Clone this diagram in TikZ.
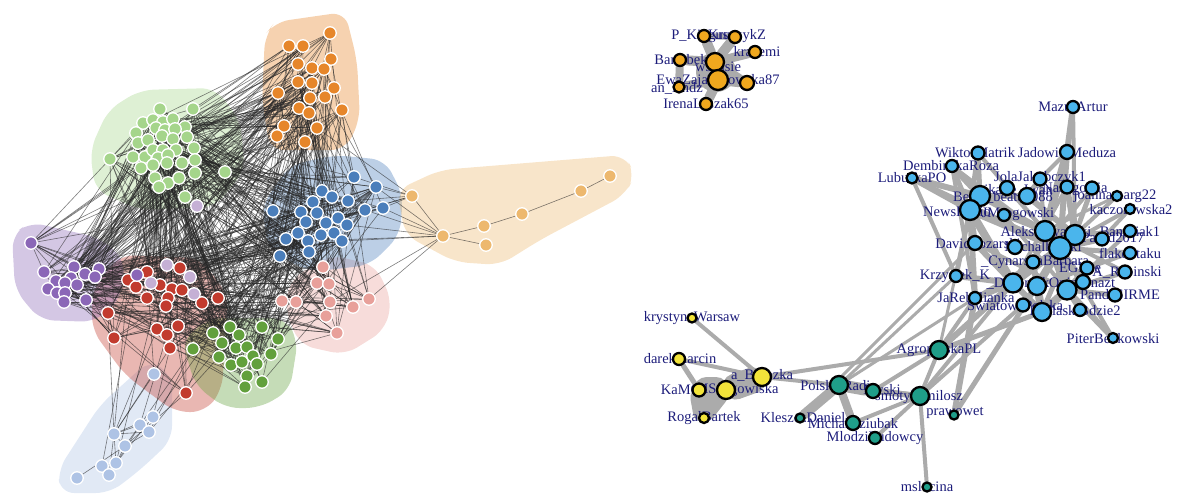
\documentclass[tikz,border=0pt]{standalone}
\usepackage{fontspec}
\setmainfont{Liberation Serif}
\pgfdeclarelayer{hulls}
\pgfdeclarelayer{edges}
\pgfdeclarelayer{labels}
\pgfsetlayers{hulls,edges,labels,main}
\definecolor{cLG}{HTML}{A5D58B}
\definecolor{cOR}{HTML}{E6862A}
\definecolor{cBL}{HTML}{4A7EBB}
\definecolor{cRD}{HTML}{C23B2E}
\definecolor{cPU}{HTML}{8B67B7}
\definecolor{cDG}{HTML}{62A03C}
\definecolor{cPK}{HTML}{E8A09A}
\definecolor{cLV}{HTML}{C5B0D5}
\definecolor{cLB}{HTML}{AEC3E5}
\definecolor{cLO}{HTML}{EDB86E}
\definecolor{rTop}{HTML}{F0A81E}
\definecolor{rYel}{HTML}{F2E33A}
\definecolor{rTeal}{HTML}{1F9E89}
\definecolor{rBlue}{HTML}{4AB5EC}
\definecolor{rEdge}{HTML}{ABABAB}
\definecolor{rText}{HTML}{1C1C7A}
\tikzset{
  dot/.style={circle, draw=white, line width=1.3pt, inner sep=0pt, minimum size=12.5pt},
  ledge/.style={draw=black!85, line width=0.6pt, draw opacity=0.6},
  hull/.style={rounded corners=14pt, fill opacity=0.37},
  rnode/.style={circle, draw=black, line width=2.3pt, inner sep=0pt, minimum size=#1},
  redge/.style={draw=rEdge, line width=#1, line cap=round},
  rlab/.style={text=rText, font=\fontsize{14.5}{14.5}\selectfont, inner sep=0pt}
}
\newcommand{\mkcluster}[3]{\foreach \px/\py [count=\k from #2] in {#3} {\node[dot,fill=#1] (g\k) at (\px,\py) {};}}
\begin{document}
\begin{tikzpicture}[x=1pt,y=-1pt]
\useasboundingbox (0,0) rectangle (1177,495);
% ---------------- hulls ----------------
\begin{pgfonlayer}{hulls}
\fill[hull,cLB] (58,470) -- (100,405) -- (150,360) -- (172,375) -- (172,440) -- (140,470) -- (110,493) -- (60,493) -- cycle;
\fill[hull,cRD] (92,290) -- (120,255) -- (200,258) -- (228,295) -- (222,390) -- (205,412) -- (175,412) -- (125,375) -- (92,330) -- cycle;
\fill[hull,cDG] (182,340) -- (210,318) -- (285,318) -- (298,340) -- (290,390) -- (260,408) -- (225,408) -- (195,385) -- cycle;
\fill[hull,cPU] (12,235) -- (30,222) -- (100,238) -- (125,260) -- (120,300) -- (95,322) -- (40,320) -- (15,290) -- cycle;
\fill[hull,cLG] (90,150) -- (108,110) -- (140,90) -- (215,88) -- (240,120) -- (245,170) -- (215,207) -- (140,210) -- (95,190) -- cycle;
\fill[hull,cOR] (265,35) -- (275,22) -- (345,12) -- (357,60) -- (360,120) -- (345,150) -- (270,150) -- (262,100) -- cycle;
\fill[hull,cPK] (290,280) -- (330,255) -- (375,265) -- (392,300) -- (385,330) -- (345,355) -- (300,345) -- (285,310) -- cycle;
\fill[hull,cBL] (262,205) -- (290,165) -- (335,155) -- (385,160) -- (403,195) -- (400,235) -- (370,265) -- (310,272) -- (268,250) -- cycle;
\fill[hull,cLO] (397,190) -- (440,170) -- (625,155) -- (635,175) -- (625,195) -- (540,240) -- (500,265) -- (455,262) -- (405,235) -- cycle;
\end{pgfonlayer}
% ---------------- left nodes ----------------
\mkcluster{cLG}{1}{160/109,193/109,143/123,153/120,163/122,173/119,185/127,136/133,156/128,165/130,175/129,138/143,148/140,162/136,173/139,187/137,194/148,110/159,133/157,145/157,153/150,163/150,176/150,158/158,168/155,182/163,195/160,141/168,153/165,167/163,155/178,168/183,179/178,195/173,159/187,225/172,185/197}
\mkcluster{cOR}{38}{330/33,289/46,303/46,331/59,298/64,312/68,324/69,298/82,312/83,278/93,334/88,310/98,325/97,299/108,309/113,342/110,284/126,317/128,277/136,305/142}
\mkcluster{cBL}{58}{354/177,376/187,322/191,332/197,348/201,313/202,273/211,301/212,317/213,365/210,383/208,338/218,306/222,326/223,347/225,298/233,321/235,334/233,286/239,308/241,342/241,309/252,280/256}
\mkcluster{cRD}{81}{147/272,180/268,128/280,136/287,160/285,172/289,182/290,147/298,168/298,166/306,202/303,218/298,108/313,114/338,157/329,178/326,167/335,170/348,186/393}
\mkcluster{cPU}{100}{31/243,44/272,74/267,85/274,99/269,95/277,71/278,56/281,65/283,77/285,48/289,57/293,65/293,64/302,86/300,137/275}
\mkcluster{cDG}{116}{193/349,213/333,230/327,239/335,222/343,262/327,278/339,236/348,247/347,219/357,231/365,242/362,253/356,257/364,271/354,247/376,245/387,262/382}
\mkcluster{cPK}{134}{323/267,317/283,329/284,282/301,296/302,330/302,369/299,353/307,326/316,337/333}
\mkcluster{cLV}{144}{197/206,167/265,190/277,151/283,194/294}
\foreach \px/\py [count=\k] in {154/374,114/434,140/425,153/417,149/432,125/446,116/463,102/466,109/475,77/478}
  {\node[dot,fill=cLB] (lb\k) at (\px,\py) {};}
\foreach \px/\py [count=\k] in {412/196,443/236,484/226,486/245,522/214,581/191,610/176}
  {\node[dot,fill=cLO] (lo\k) at (\px,\py) {};}
% ---------------- left edges ----------------
\begin{pgfonlayer}{edges}
\pgfmathsetseed{4242}
\foreach \i in {1,...,820}{
  \pgfmathrandominteger{\ea}{1}{148}
  \pgfmathrandominteger{\eb}{1}{148}
  \ifnum\ea=\eb\else\draw[ledge] (g\ea) -- (g\eb);\fi
}
\foreach \a/\b in {18/100,18/3,18/8,100/101,100/102}{\draw[ledge] (g\a) -- (g\b);}
\foreach \a/\b in {2/3,2/4,2/5,2/6,2/7,2/9,3/6,5/6,6/7,7/8,8/9,10/6,2/1,4/7,3/9}{\draw[ledge] (lb\a) -- (lb\b);}
\foreach \a/\b in {2/93,2/98,2/95,2/83,1/81,3/116,4/117,5/120,7/85,6/99,8/84,1/99,4/98,3/97,5/116}{\draw[ledge] (lb\a) -- (g\b);}
\foreach \a/\b in {1/2,2/3,2/4,3/5,5/6,6/7}{\draw[ledge] (lo\a) -- (lo\b);}
\foreach \a/\b in {1/58,1/59,1/67,1/68,1/69,1/55,1/62,2/78,2/72,2/59,2/77,2/140,2/139,2/68,2/67}{\draw[ledge] (lo\a) -- (g\b);}
\end{pgfonlayer}
% ---------------- right nodes ----------------
\node[rnode=12pt,fill=rTop] (t1) at (704,36) {};
\node[rnode=12pt,fill=rTop] (t2) at (735,37) {};
\node[rnode=12pt,fill=rTop] (t3) at (755,52) {};
\node[rnode=12pt,fill=rTop] (t4) at (680,60) {};
\node[rnode=18pt,fill=rTop] (t5) at (715,62) {};
\node[rnode=20pt,fill=rTop] (t6) at (718,80) {};
\node[rnode=14pt,fill=rTop] (t7) at (747,83) {};
\node[rnode=11pt,fill=rTop] (t8) at (679,87) {};
\node[rnode=12pt,fill=rTop] (t9) at (706,104) {};
\node[rnode=9pt,fill=rYel] (y1) at (692,318) {};
\node[rnode=12pt,fill=rYel] (y2) at (679,359) {};
\node[rnode=18pt,fill=rYel] (y3) at (762,377) {};
\node[rnode=13pt,fill=rYel] (y4) at (699,390) {};
\node[rnode=18pt,fill=rYel] (y5) at (726,390) {};
\node[rnode=10pt,fill=rYel] (y6) at (704,418) {};
\node[rnode=18pt,fill=rTeal] (c1) at (939,350) {};
\node[rnode=18pt,fill=rTeal] (c2) at (839,385) {};
\node[rnode=14pt,fill=rTeal] (c3) at (873,391) {};
\node[rnode=18pt,fill=rTeal] (c4) at (920,396) {};
\node[rnode=14pt,fill=rTeal] (c5) at (853,423) {};
\node[rnode=12pt,fill=rTeal] (c6) at (875,438) {};
\node[rnode=9pt,fill=rTeal] (c7) at (800,418) {};
\node[rnode=9pt,fill=rTeal] (c8) at (954,415) {};
\node[rnode=9pt,fill=rTeal] (c9) at (927,487) {};
\foreach \px/\py/\d [count=\k] in {1073/107/12,978/153/13,1067/152/14,952/166/12,912/178/11,1040/179/13,980/196/20,1007/188/14,1027/196/16,1067/187/13,1092/188/13,1117/196/10,1130/209/10,970/210/20,1004/215/12,1045/231/20,1075/235/20,1060/248/22,1102/239/13,1130/231/12,1130/253/12,975/243/14,1015/247/14,1033/262/13,1087/268/13,1125/272/13,956/276/12,1013/283/19,1037/286/18,1067/290/19,1083/282/14,1115/295/13,975/298/12,1023/305/13,1042/312/18,1080/310/12,1113/338/10}
  {\node[rnode=\d pt,fill=rBlue] (b\k) at (\px,\py) {};}
% ---------------- right labels ----------------
\begin{pgfonlayer}{labels}
\foreach \px/\py/\txt [count=\k] in {
 700/36/P\_Kingus, 737/36/KruszykZ, 757/52/kracemi, 681/60/Bartobek, 718/67/wsensie,
 718/81/EwaZajaczkowska87, 677/88/an\_Bndz, 706/104/IrenaLeszak65,
 692/318/krystynaWarsaw, 680/359/darekmarcin, 762/375/a\_Brzozka, 681/390/KaMO,
 737/390/MSzogowiska, 704/418/RogalBartek,
 939/350/AgropolskaPL, 839/386/PolskieRadio, 882/391/Myski, 919/397/smotykamilosz,
 803/418/KleszczDaniel, 853/424/MichalDziubak, 875/438/MlodziLudowcy, 955/413/prawowet,
 927/487/mslocina,
 1073/107/MazurArtur, 975/153/WiktorMatrik, 1067/153/JadowitaMeduza, 951/166/DembinskaRoza,
 912/178/LubuskaPO, 1040/178/JolaJakobczyk1, 1013/190/mikalle\_Iwan, 1075/189/NaJogowia,
 1003/197/Beata\_beata1088, 1115/196/joannamarg22, 1131/210/kaczorowska2, 957/212/NewsRadio,
 1018/214/JMrogowski, 1046/232/AleksZawadzki, 1113/238/Parkd2017, 1130/232/Banasiak1,
 1130/253/flakontaku, 978/244/DavidPozarski, 1043/247/Michalhorski, 1035/262/\_CynarskaBarbara,
 1080/268/EGlase, 1127/272/A\_Rabinski, 955/276/Krzysiek\_K, 1018/283/\_Decorzak,
 1082/284/OpinJonazt, 1120/295/PandaSIRME, 976/298/JaRebelianka, 1015/306/SwiatowaPolska,
 1075/311/PodlaskiBdzie2, 1113/339/PiterBenkowski}
 {\node[rlab] (lab\k) at (\px,\py) {\txt};}
\end{pgfonlayer}
% ---------------- right edges ----------------
\begin{pgfonlayer}{edges}
\fill[rEdge] (716,72) circle (20);
\foreach \a/\b/\w in {5/1/10,5/2/10,5/3/9,5/4/10,5/6/14,5/7/8,6/8/9,6/9/10,6/7/10,4/8/8,1/2/6}
  {\draw[redge=\w pt] (t\a) -- (t\b);}
\foreach \a/\b/\w in {3/5/26,4/5/26,6/4/20,6/5/14,2/4/5,2/3/4,1/3/4}
  {\draw[redge=\w pt] (y\a) -- (y\b);}
\draw[redge=4pt] (y3) -- (c1);
\draw[redge=4pt] (y3) -- (c2);
\foreach \a/\b/\w in {7/2/10,2/3/12,2/5/8,3/4/6,2/4/5,4/6/4,5/4/4,4/9/4,4/1/4,3/1/4}
  {\draw[redge=\w pt] (c\a) -- (c\b);}
\foreach \a/\b/\w in {1/14/3,2/27/3,2/33/3,7/22/3,8/33/6,1/28/6,1/35/5,4/34/4,8/29/5,1/33/4,4/28/4}
  {\draw[redge=\w pt] (c\a) -- (b\b);}
\foreach \a/\b/\w in {1/3/6,1/17/4,3/6/4,3/16/8,3/18/6,2/7/5,2/14/5,4/7/6,4/14/5,5/7/6,5/14/6,5/18/4,6/9/5,6/16/4,7/14/10,7/9/6,7/16/6,8/16/4,9/17/6,10/17/6,11/17/5,12/17/4,13/19/4,13/18/4,14/18/8,14/28/8,14/22/6,15/16/5,16/18/10,17/18/10,16/30/8,18/30/10,18/29/8,18/28/8,19/18/6,20/17/5,21/18/5,22/28/6,23/18/6,24/29/6,25/30/6,26/30/5,27/28/6,27/14/5,28/35/6,29/35/8,30/35/8,31/18/6,32/30/5,33/28/6,34/18/5,36/30/5,37/30/6,37/18/4,12/16/3,2/16/4,4/18/4,20/30/4,21/29/4,26/16/4,33/18/4,22/30/4,35/17/5,10/28/4,11/28/4,15/30/4,5/27/4,4/33/4,14/33/6}
  {\draw[redge=\w pt] (b\a) -- (b\b);}
\end{pgfonlayer}
\end{tikzpicture}
\end{document}
